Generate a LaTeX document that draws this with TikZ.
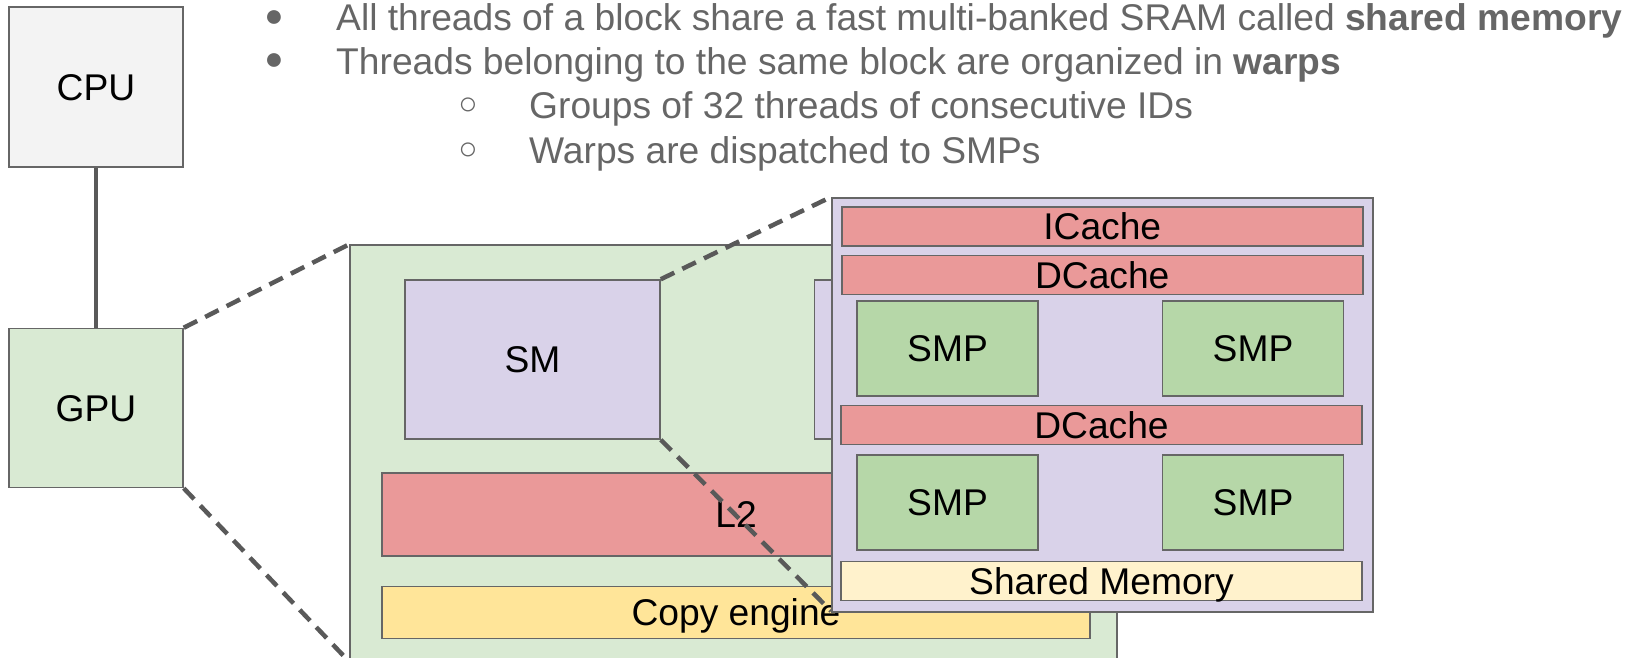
\documentclass[tikz,border=0pt]{standalone}
\usepackage{fontspec}
\setmainfont{Liberation Sans}
\usetikzlibrary{positioning}

\definecolor{edgegray}{HTML}{666666}
\definecolor{linkgray}{HTML}{595959}
\definecolor{textgray}{HTML}{666666}
\definecolor{cpugray}{HTML}{F3F3F3}
\definecolor{gpugreen}{HTML}{D9EAD3}
\definecolor{smpurple}{HTML}{D9D2E9}
\definecolor{cachered}{HTML}{EA9999}
\definecolor{copyyellow}{HTML}{FFE599}
\definecolor{smpgreen}{HTML}{B6D7A8}
\definecolor{shmemyellow}{HTML}{FFF2CC}

\begin{document}
\begin{tikzpicture}[
  x=1pt, y=-1pt,
  every node/.style={font=\fontsize{37.2}{44}\selectfont},
  block/.style={rectangle, draw=edgegray, line width=1.5pt, inner sep=0pt, text height=26.6pt, text depth=0pt},
  cachebar/.style={block, fill=cachered, minimum width=521pt, minimum height=39pt},
  smpbox/.style={block, fill=smpgreen, minimum width=181pt, minimum height=95pt},
  bullettext/.style={anchor=base west, inner sep=0pt, text=textgray},
  bulletmark/.style={inner sep=0pt, text=textgray, font=\fontsize{32}{36}\selectfont},
  link/.style={draw=linkgray, line width=4.5pt},
  zoomline/.style={link, dash pattern=on 15pt off 9pt}
]
\useasboundingbox (0,0) rectangle (1635,658);
\clip (0,0) rectangle (1635,658);

% Bullet list
\node[bullettext] (line1) at (336,31) {All threads of a block share a fast multi-banked SRAM called \textbf{shared memory}};
\node[bullettext] (line2) at (336,75) {Threads belonging to the same block are organized in \textbf{warps}};
\node[bullettext] (line3) at (529,119) {Groups of 32 threads of consecutive IDs};
\node[bullettext] (line4) at (529,164) {Warps are dispatched to SMPs};
\node[bulletmark] (dot1) at (274,19) {●};
\node[bulletmark] (dot2) at (274,62) {●};
\node[bulletmark] (dot3) at (468,106) {○};
\node[bulletmark] (dot4) at (468,151) {○};

% Host and device
\node[block, fill=cpugray, minimum width=174pt, minimum height=160pt] (cpu) at (96,87) {CPU};
\node[block, fill=gpugreen, minimum width=174pt, minimum height=159pt, below=160pt of cpu] (gpu) {GPU};
\draw[link] (cpu) -- (gpu);

% GPU chip
\node[block, fill=gpugreen, minimum width=767pt, minimum height=416pt] (gpuchip) at (733.5,453) {};
\draw[zoomline] (gpu.north east) -- (gpuchip.north west);
\draw[zoomline] (gpu.south east) -- (gpuchip.south west);

\node[block, fill=smpurple, minimum width=255pt, minimum height=159pt] (sm) at (532.5,359.5) {SM};
\node[block, fill=smpurple, minimum width=255pt, minimum height=159pt, right=153pt of sm] (sm2) {};
\node[block, fill=cachered, minimum width=708pt, minimum height=83pt] (l2) at (736,514.5) {L2};
\node[block, fill=copyyellow, minimum width=708pt, minimum height=52pt, below=29pt of l2] (copyeng) {Copy engine};

% Zoom on one SM
\coordinate (zoomtl) at (831,197);
\coordinate (zoombl) at (831,611);
\draw[zoomline] (sm.north east) -- (zoomtl);
\draw[zoomline] (sm.south east) -- (zoombl);

\node[block, fill=smpurple, minimum width=541pt, minimum height=414pt, anchor=north west] (smzoom) at (zoomtl) {};
\node[cachebar, below=9pt of smzoom.north] (icache) {ICache};
\node[cachebar, below=8pt of icache] (dcache1) {DCache};
\node[smpbox] (smp1) at (947.5,348.5) {SMP};
\node[smpbox, right=123pt of smp1] (smp2) {SMP};
\node[cachebar] (dcache2) at (1101.5,425) {DCache};
\node[smpbox] (smp3) at (947.5,502.5) {SMP};
\node[smpbox, right=123pt of smp3] (smp4) {SMP};
\node[cachebar, fill=shmemyellow, below=10pt of smp3.south -| dcache2] (shmem) {Shared Memory};

\end{tikzpicture}
\end{document}
